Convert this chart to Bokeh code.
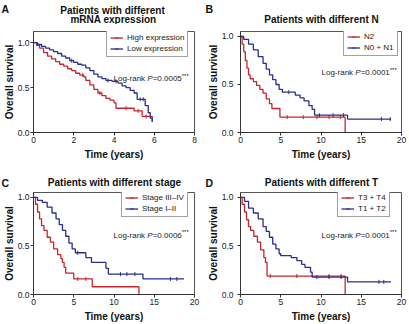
import numpy as np
from bokeh.plotting import figure
from bokeh.models import Range1d, FixedTicker, Label, Legend, LegendItem, PrintfTickFormatter
from bokeh.layouts import column, row
from bokeh.embed import file_html
from bokeh.resources import INLINE

RED = "#c4262c"
BLUE = "#2b2e8c"
FONT = "Liberation Sans"

# ---------------- data ----------------
# Panel A: mRNA expression, x 0-8 years
a_high_t = [0, 0.15, 0.3, 0.5, 0.7, 0.9, 1.1, 1.3, 1.5, 1.7, 1.9, 2.1, 2.3, 2.5, 2.6, 2.8, 3.0, 3.2, 3.4, 3.6, 3.8, 4.0, 4.1, 5.0, 5.4, 5.9]
a_high_s = [1.0, 0.97, 0.94, 0.89, 0.85, 0.82, 0.79, 0.76, 0.74, 0.71, 0.69, 0.66, 0.64, 0.62, 0.58, 0.53, 0.48, 0.44, 0.41, 0.38, 0.36, 0.33, 0.27, 0.24, 0.18, 0.12]
a_high_cens = [2.45, 3.3, 4.6, 5.2, 5.6]
a_low_t = [0, 0.2, 0.4, 0.6, 0.8, 1.0, 1.2, 1.4, 1.6, 1.8, 2.0, 2.2, 2.4, 2.6, 2.8, 3.0, 3.2, 3.4, 3.6, 3.9, 4.2, 4.4, 4.6, 4.8, 5.0, 5.15, 5.55, 5.7, 5.8, 5.9]
a_low_s = [1.0, 0.98, 0.96, 0.94, 0.92, 0.90, 0.88, 0.85, 0.83, 0.80, 0.78, 0.76, 0.75, 0.72, 0.69, 0.65, 0.62, 0.60, 0.58, 0.57, 0.55, 0.52, 0.50, 0.47, 0.44, 0.37, 0.30, 0.22, 0.16, 0.12]
a_low_cens = [1.9, 3.7, 4.1, 5.3, 5.45]

# Panel B: N stage, x 0-20 years
b_n2_t = [0, 0.2, 0.4, 0.6, 0.8, 1.0, 1.2, 1.6, 2.0, 2.4, 2.8, 3.2, 3.6, 3.9, 4.9, 13.0]
b_n2_s = [1.0, 0.92, 0.84, 0.75, 0.67, 0.60, 0.56, 0.53, 0.49, 0.45, 0.41, 0.35, 0.30, 0.25, 0.16, 0.0]
b_n2_cens = [5.8, 7.8, 9.5, 11.0, 12.4]
b_n01_t = [0, 0.4, 1.0, 1.6, 2.2, 2.8, 3.2, 3.6, 4.0, 4.4, 4.8, 5.2, 6.8, 7.4, 7.9, 8.5, 8.9, 9.2, 13.3, 18.7]
b_n01_s = [1.0, 0.97, 0.92, 0.86, 0.79, 0.72, 0.66, 0.60, 0.55, 0.50, 0.45, 0.42, 0.39, 0.36, 0.33, 0.28, 0.24, 0.18, 0.14, 0.14]
b_n01_cens = [6.0, 9.8, 11.5, 12.8, 17.5, 18.6]

# Panel C: stage, x 0-20 years
c_34_t = [0, 0.25, 0.5, 0.75, 1.0, 1.3, 1.7, 2.1, 2.5, 3.0, 3.4, 3.6, 3.8, 4.0, 5.0, 7.3, 13.1]
c_34_s = [1.0, 0.93, 0.85, 0.78, 0.71, 0.66, 0.59, 0.54, 0.47, 0.41, 0.37, 0.33, 0.28, 0.22, 0.16, 0.08, 0.0]
c_34_cens = [5.5, 6.5]
c_12_t = [0, 0.5, 1.1, 1.7, 2.3, 2.8, 3.2, 3.6, 4.0, 4.4, 4.8, 5.2, 6.5, 7.2, 9.0, 9.3, 13.6, 18.7]
c_12_s = [1.0, 0.97, 0.95, 0.90, 0.84, 0.78, 0.72, 0.66, 0.60, 0.53, 0.47, 0.43, 0.38, 0.33, 0.27, 0.21, 0.16, 0.16]
c_12_cens = [5.5, 10.8, 11.6, 12.6, 17.0, 17.8]

# Panel D: T stage, x 0-20 years
d_34_t = [0, 0.2, 0.5, 0.75, 1.0, 1.25, 1.65, 2.1, 2.5, 2.9, 3.1, 3.3, 13.0]
d_34_s = [1.0, 0.93, 0.85, 0.77, 0.70, 0.66, 0.60, 0.54, 0.46, 0.38, 0.33, 0.19, 0.0]
d_34_cens = [3.7, 7.0, 11.0, 12.5]
d_12_t = [0, 0.5, 1.0, 1.6, 2.2, 2.8, 3.2, 3.6, 4.0, 4.4, 4.8, 5.0, 6.3, 7.0, 7.6, 8.0, 8.7, 8.9, 13.3, 18.7]
d_12_s = [1.0, 0.96, 0.89, 0.84, 0.78, 0.70, 0.65, 0.59, 0.52, 0.47, 0.42, 0.40, 0.38, 0.35, 0.31, 0.28, 0.23, 0.18, 0.13, 0.13]
d_12_cens = [9.5, 11.0, 12.5, 17.2, 17.8]

y_ticks = [0, 0.5, 1.0]
a_x_ticks = [0, 2, 4, 6, 8]
bcd_x_ticks = [0, 5, 10, 15, 20]


def surv_at(t, s, c):
    t = np.asarray(t); s = np.asarray(s)
    idx = np.searchsorted(t, np.asarray(c), side="right") - 1
    return s[idx]


def header(height, texts):
    """Strip above a row of panels holding the panel letters and titles (y measured downward)."""
    h = figure(width=409, height=height, output_backend="svg", toolbar_location=None, title=None,
               x_range=Range1d(0, 409), y_range=Range1d(height, 0),
               x_axis_location=None, y_axis_location=None, min_border=0,
               background_fill_color="white", border_fill_color="white")
    h.outline_line_color = None
    h.xgrid.visible = False
    h.ygrid.visible = False
    for text, x, y, size, align in texts:
        h.add_layout(Label(x=x, y=y, text=text, text_font=FONT, text_font_size=size,
                           text_font_style="bold", text_color="#111111",
                           text_align=align, text_baseline="alphabetic"))
    return h


def panel(xmax, xticks, ytop, curves, pval, g):
    p = figure(width=g["w"], height=g["h"], output_backend="svg", toolbar_location=None, title=None,
               x_range=Range1d(0, xmax), y_range=Range1d(0, ytop),
               min_border_left=g["bl"], min_border_right=g["br"],
               min_border_top=g["bt"], min_border_bottom=29,
               background_fill_color="white", border_fill_color="white")
    p.xgrid.visible = False
    p.ygrid.visible = False
    p.outline_line_color = "#555555"
    p.outline_line_width = 1
    for ax in (p.xaxis[0], p.yaxis[0]):
        ax.axis_line_color = "#333333"
        ax.major_tick_line_color = "#333333"
        ax.minor_tick_line_color = None
        ax.major_tick_out = 3
        ax.major_tick_in = 0
        ax.major_label_text_font = FONT
        ax.major_label_text_font_size = "8.5px"
        ax.major_label_text_color = "#222222"
        ax.axis_label_text_font = FONT
        ax.axis_label_text_font_size = "10px"
        ax.axis_label_text_font_style = "bold"
        ax.axis_label_text_color = "#111111"
    p.xaxis.ticker = FixedTicker(ticks=xticks)
    p.yaxis.ticker = FixedTicker(ticks=y_ticks)
    p.yaxis.formatter = PrintfTickFormatter(format="%.1f")
    p.xaxis.axis_label = "Time (years)"
    p.yaxis.axis_label = "Overall survival"
    p.xaxis.major_label_standoff = 1
    p.xaxis.axis_label_standoff = 3
    p.yaxis.major_label_standoff = g["yls"]
    p.yaxis.axis_label_standoff = 0

    items = []
    for (t, s, cens, color, name) in curves:
        r1 = p.step(t, s, mode="after", line_color=color, line_width=1.3)
        r2 = p.scatter(list(cens), list(surv_at(t, s, cens)), marker="dash", angle=np.pi / 2,
                       size=4, line_color=color, line_width=1)
        items.append(LegendItem(label=name, renderers=[r1, r2]))
    leg = Legend(items=items, location=g["leg"], border_line_color="#444444", border_line_width=1,
                 background_fill_color="white", background_fill_alpha=1.0,
                 label_text_font=FONT, label_text_font_size="8px", label_text_color="#222222",
                 glyph_width=13, glyph_height=9, label_height=9, label_standoff=4,
                 spacing=2, padding=3, margin=0)
    p.add_layout(leg, "center")

    # log-rank text, anchored at the frame's top-left corner with pixel offsets
    fs = 8.0
    x0 = g["px"]
    pieces = [("Log-rank ", "normal", fs, 0, 33.8 / 8.0),
              ("P", "italic", fs, 0, 0.667),
              ("=" + pval, "normal", fs, 0, 0.584 + 0.556 * 5 + 0.278),
              ("***", "normal", 6.0, 3, 0.389 * 3)]
    for text, style, size, raise_, em in pieces:
        p.add_layout(Label(x=0, y=ytop, x_offset=x0, y_offset=-g["py"] + raise_, text=text,
                           text_font=FONT, text_font_size=f"{size}px", text_font_style=style,
                           text_color="#222222", text_baseline="alphabetic"))
        x0 += em * size
    return p


head1 = header(24, [("A", 1, 8.5, "10.5px", "left"),
                    ("Patients with different", 112, 9.5, "10px", "center"),
                    ("mRNA expression", 113, 18.5, "10px", "center"),
                    ("B", 205, 8.5, "10.5px", "left"),
                    ("Patients with different N", 321, 19.3, "10px", "center")])
head2 = header(29, [("C", 1, 20, "10.5px", "left"),
                    ("Patients with different stage", 114, 19.5, "10px", "center"),
                    ("D", 205, 20, "10.5px", "left"),
                    ("Patients with different T", 321, 19.5, "10px", "center")])

pa = panel(8, a_x_ticks, 1.125,
           [(a_high_t, a_high_s, a_high_cens, RED, "High expression"),
            (a_low_t, a_low_s, a_low_cens, BLUE, "Low expression")],
           "0.0005",
           dict(w=204, h=138, bl=33, br=10, bt=1, yls=1, leg=(73, 75), px=80, py=47))

pb = panel(20, bcd_x_ticks, 1.052,
           [(b_n2_t, b_n2_s, b_n2_cens, RED, "N2"),
            (b_n01_t, b_n01_s, b_n01_cens, BLUE, "N0 + N1")],
           "0.0001",
           dict(w=205, h=138, bl=36, br=8, bt=7, yls=4, leg=(103, 76), px=81, py=41))

pc = panel(20, bcd_x_ticks, 1.051,
           [(c_34_t, c_34_s, c_34_cens, RED, "Stage III\u2013IV"),
            (c_12_t, c_12_s, c_12_cens, BLUE, "Stage I\u2013II")],
           "0.0006",
           dict(w=204, h=133, bl=33, br=10, bt=1, yls=1, leg=(88, 77), px=80, py=42.7))

pd_ = panel(20, bcd_x_ticks, 1.051,
            [(d_34_t, d_34_s, d_34_cens, RED, "T3 + T4"),
             (d_12_t, d_12_s, d_12_cens, BLUE, "T1 + T2")],
            "0.0001",
            dict(w=205, h=133, bl=36, br=8, bt=1, yls=4, leg=(97, 77), px=81, py=42.7))

layout = column(head1, row(pa, pb), head2, row(pc, pd_))
open("out.html", "w").write(file_html(layout, INLINE))
